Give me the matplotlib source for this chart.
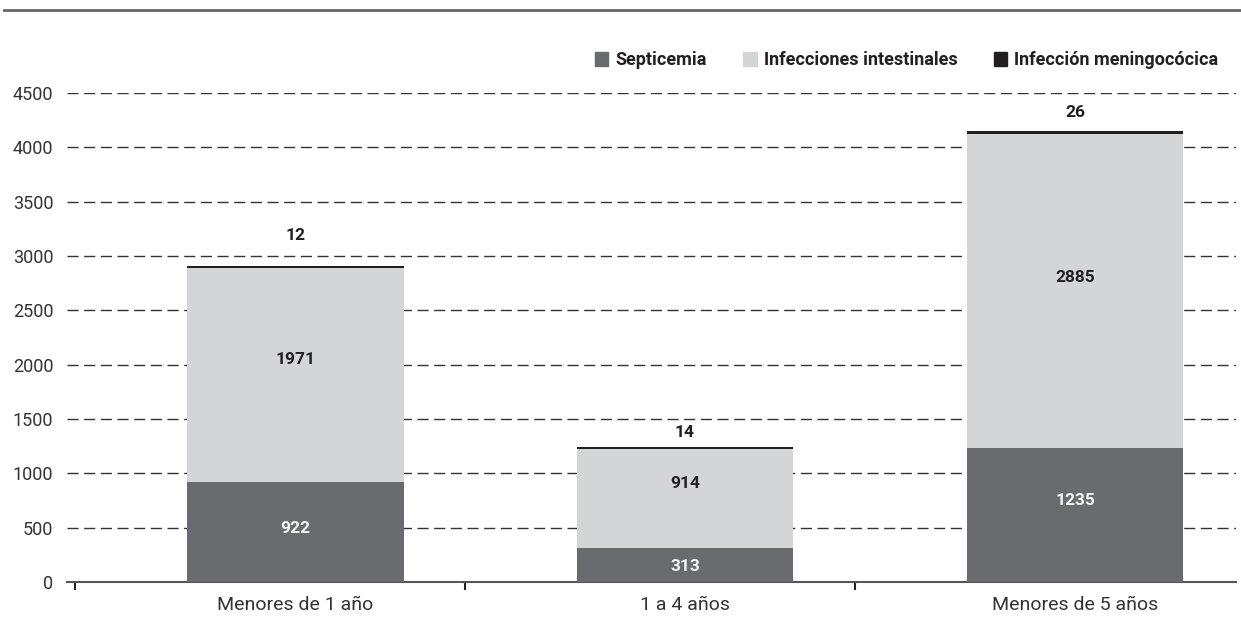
import matplotlib.pyplot as plt
import numpy as np
from matplotlib.lines import Line2D
from matplotlib.patches import Patch

plt.rcParams['font.family'] = ['Roboto', 'DejaVu Sans']

categorias = ['Menores de 1 año', '1 a 4 años', 'Menores de 5 años']
septicemia = [922, 313, 1235]
intestinales = [1971, 914, 2885]
meningococica = [12, 14, 26]

# label positions (offsets in data units)
off_sep = [30, -10, 135]
off_int = [135, 140, 120]
off_top = [285, 130, 175]

c_sep = '#6a6b6f'
c_int = '#d4d5d7'
c_men = '#231f20'

fig = plt.figure(figsize=(12.41, 6.36), dpi=100)
ax = fig.add_axes([0.054, 0.085, 0.942, 0.769])

x = np.arange(len(categorias))
w = 0.556
sep = np.array(septicemia)
inte = np.array(intestinales)
men = np.array(meningococica)

ax.bar(x, sep, w, color=c_sep, zorder=3)
ax.bar(x, inte, w, bottom=sep, color=c_int, zorder=3)
ax.bar(x, men, w, bottom=sep + inte, color=c_men, zorder=3)

for i in range(len(x)):
    ax.text(x[i], sep[i] / 2 + off_sep[i], str(sep[i]), ha='center', va='center',
            color='#f4f4f4', fontsize=12.5, fontweight='bold', zorder=4)
    ax.text(x[i], sep[i] + inte[i] / 2 + off_int[i], str(inte[i]), ha='center', va='center',
            color='#231f20', fontsize=12.5, fontweight='bold', zorder=4)
    ax.text(x[i], sep[i] + inte[i] + men[i] + off_top[i], str(men[i]), ha='center', va='center',
            color='#231f20', fontsize=12.5, fontweight='bold', zorder=4)

ax.set_ylim(0, 4500)
ax.set_xlim(-0.585, 2.413)
ax.set_yticks(np.arange(0, 4501, 500))
ax.yaxis.grid(True, linestyle=(0, (8, 4)), color='#333333', linewidth=1)
ax.set_axisbelow(True)
ax.tick_params(axis='y', length=0, pad=10, labelsize=13, labelcolor='#333333')

bounds = [-0.564, 0.436, 1.436]
ax.set_xticks(bounds)
ax.set_xticklabels([])
ax.tick_params(axis='x', which='major', direction='out', length=6, width=1.5, color='#231f20')
ax.set_xticks(x, minor=True)
ax.set_xticklabels(categorias, minor=True)
ax.tick_params(axis='x', which='minor', length=0, pad=10, labelsize=14, labelcolor='#333333')

for s in ['top', 'right', 'left']:
    ax.spines[s].set_visible(False)
ax.spines['bottom'].set_color('#555555')
ax.spines['bottom'].set_linewidth(1.5)

handles = [Patch(color=c_sep, label='Septicemia'),
           Patch(color=c_int, label='Infecciones intestinales'),
           Patch(color=c_men, label='Infección meningocócica')]
leg = fig.legend(handles=handles, ncol=3, loc='upper right', bbox_to_anchor=(0.995, 0.945),
                 frameon=False, handlelength=0.75, handleheight=0.75, handletextpad=0.4,
                 columnspacing=2.0, prop={'weight': 'bold', 'size': 13})
for t in leg.get_texts():
    t.set_color('#231f20')

fig.add_artist(Line2D([0.003, 1.0], [1 - 10 / 636, 1 - 10 / 636], color='#666666', linewidth=2))

fig.savefig('out.png', dpi=100)
